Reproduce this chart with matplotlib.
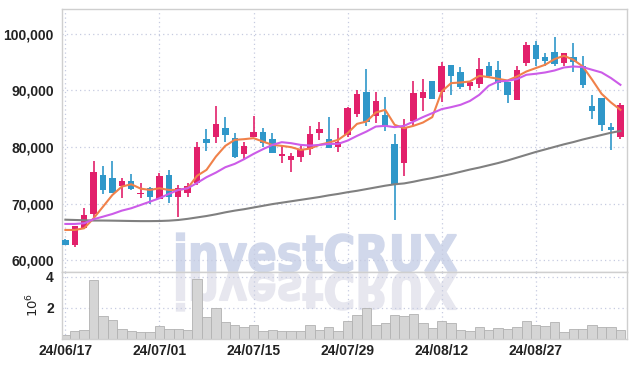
import matplotlib
matplotlib.use('Agg')
import matplotlib.pyplot as plt
import numpy as np
from matplotlib.textpath import TextPath
from matplotlib.patches import PathPatch
from matplotlib.font_manager import FontProperties
from matplotlib.transforms import Affine2D

# ---------------- data ----------------
tick_positions = [0, 10, 20, 30, 40, 50]
tick_labels = ['24/06/17', '24/07/01', '24/07/15', '24/07/29', '24/08/12', '24/08/27']

opens = [63600, 62700, 65640, 68160, 75050, 74520, 73110, 73990, 71700, 72700,
         70870, 75050, 71110, 71820, 73590, 81410, 81820, 83360, 81540, 78820,
         81820, 82700, 81410, 78460, 77700, 78290, 79590, 82420, 81360, 80050,
         82120, 85830, 89770, 85530, 85650, 80530, 77230, 84650, 88710, 91660,
         89770, 94490, 93130, 90780, 91080, 94310, 93600, 91390, 88300, 94780,
         98020, 95870, 96750, 94780, 95870, 94310, 87240, 88610, 83590, 81820]
closes = [62700, 66040, 67990, 75640, 72400, 71930, 73990, 72530, 71930, 71220,
          74880, 71110, 72700, 73110, 79950, 80760, 84060, 82170, 78290, 80180,
          82650, 80650, 78990, 78760, 78350, 79590, 82300, 83180, 79880, 80830,
          86840, 89360, 84470, 88130, 83710, 73290, 83480, 89480, 89770, 88530,
          94310, 92420, 90480, 91360, 93780, 92540, 91270, 89190, 93600, 98020,
          95490, 95110, 94660, 96560, 94930, 90950, 86410, 83890, 83000, 87420]
highs = [63700, 66100, 69170, 77470, 76640, 77470, 74470, 75230, 73690, 72900,
         75350, 75940, 73290, 73690, 80940, 83130, 87240, 85350, 82420, 80940,
         85480, 83300, 82420, 80350, 78880, 80530, 83710, 84360, 85250, 83300,
         87020, 90070, 93730, 89660, 88780, 82240, 84890, 91540, 91950, 91660,
         94890, 94490, 94080, 91480, 95690, 94890, 95070, 91390, 94190, 98430,
         98610, 96560, 99380, 96560, 98320, 96080, 89190, 88610, 84290, 87720]
lows = [62600, 62300, 65600, 67690, 71700, 71780, 71040, 72400, 70940, 69930,
        70800, 70050, 67690, 71110, 73290, 79350, 80760, 80940, 78000, 77700,
        81710, 79950, 78880, 77120, 75640, 77400, 78590, 81240, 79770, 79170,
        81710, 85350, 83710, 84190, 82830, 67100, 74880, 83710, 86410, 88530,
        88000, 89190, 90250, 90070, 90370, 92370, 89950, 87720, 88300, 94190,
        94310, 94310, 94190, 94190, 93130, 90370, 84890, 82880, 79470, 81360]
volumes = [260000, 480000, 540000, 3810000, 1480000, 1230000, 650000, 520000, 410000, 410000,
           840000, 650000, 650000, 540000, 3870000, 1380000, 1960000, 1060000, 900000, 740000,
           900000, 480000, 540000, 480000, 480000, 480000, 900000, 540000, 740000, 480000,
           1120000, 1510000, 1980000, 860000, 1010000, 1510000, 1440000, 1590000, 1010000, 690000,
           1120000, 1010000, 560000, 480000, 740000, 560000, 670000, 630000, 740000, 1120000,
           860000, 800000, 1060000, 410000, 610000, 610000, 900000, 740000, 740000, 560000]
ma_short = [65340, 65340, 65640, 67400, 69450, 71520, 72990, 73410, 72630, 72400,
            72700, 72400, 72400, 72700, 74900, 75940, 78290, 80180, 81240, 81360,
            81540, 80940, 80350, 80180, 79950, 79470, 79700, 80350, 80760, 81240,
            82420, 84060, 84470, 86060, 86540, 83890, 83300, 83710, 84290, 85250,
            89770, 91250, 91360, 91540, 92540, 92310, 92010, 91710, 92420, 93300,
            93900, 94490, 95490, 96080, 95370, 94190, 91840, 89360, 87830, 86540]
ma_mid = [66400, 66400, 66520, 67230, 67690, 68160, 68750, 69170, 69750, 70340,
          70940, 71700, 72400, 72700, 73640, 74650, 75460, 76410, 77000, 77830,
          78760, 79590, 80350, 80830, 80650, 80350, 80230, 80350, 80530, 80530,
          81110, 81940, 82700, 83590, 83710, 83480, 83710, 84470, 85250, 85950,
          86660, 87010, 87420, 88100, 89190, 90780, 91540, 91660, 91960, 92720,
          92900, 93130, 93480, 94010, 94190, 94080, 93600, 93130, 92140, 90950]
ma_long = [67150, 67100, 67050, 67000, 67000, 66980, 66950, 66920, 66900, 66900,
           66920, 66980, 67100, 67300, 67550, 67800, 68100, 68450, 68750, 69000,
           69300, 69600, 69900, 70150, 70400, 70650, 70900, 71150, 71450, 71700,
           72000, 72250, 72550, 72850, 73150, 73400, 73550, 73850, 74200, 74500,
           74850, 75200, 75600, 76000, 76350, 76750, 77150, 77600, 78100, 78600,
           79100, 79550, 80000, 80450, 80850, 81300, 81700, 82100, 82500, 82800]
price_ticks = [60000, 70000, 80000, 90000, 100000]
volume_ticks = [2000000, 4000000]

# ---------------- styling ----------------
W, H = 635, 366
RED = '#e2206b'
BLUE = '#2f97c9'
GRID = '#c6cbe0'
SPINE = '#cfcfcf'
TXT = '#222222'
tick_font = ['Liberation Sans Narrow', 'DejaVu Sans Condensed', 'Liberation Sans', 'DejaVu Sans']
TFS = 10

fig = plt.figure(figsize=(W / 100, H / 100), dpi=100)
fig.patch.set_facecolor('white')
L, R = 62, 627
ax = fig.add_axes([L / W, 1 - 272 / H, (R - L) / W, (272 - 9) / H])
axv = fig.add_axes([L / W, 1 - 338.7 / H, (R - L) / W, (338.7 - 272) / H], sharex=ax)

x = np.arange(len(opens))
o = np.array(opens, float); c = np.array(closes, float)
hi = np.array(highs, float); lo = np.array(lows, float)
cols = [RED if cc >= oo else BLUE for oo, cc in zip(o, c)]

# watermark
fp = FontProperties(family='DejaVu Sans', weight='bold')
tp = TextPath((0, 0), 'investCRUX', size=100, prop=fp)
ext = tp.get_extents()
sx = 280 / ext.width
sy = 38.5 / ext.height
tr_main = Affine2D().translate(-ext.x0, -ext.y0).scale(sx, sy).translate(176.7, H - 271.7)
wm = PathPatch(tp, transform=tr_main, facecolor='#d1d8eb', edgecolor='#d1d8eb', linewidth=1.2, zorder=0.3)
ax.add_artist(wm)
tr_ref = Affine2D().translate(-ext.x0, -ext.y0).scale(sx, -sy).translate(176.7, H - 272.3)
wm2 = PathPatch(tp, transform=tr_ref, facecolor='#e7e7ef', edgecolor='#e7e7ef', linewidth=1.2, zorder=0.3)
axv.add_artist(wm2)

# candles
ax.vlines(x, lo, hi, colors=cols, linewidth=1.2, zorder=3)
body = np.maximum(np.abs(c - o), 180)
ax.bar(x, body, bottom=np.minimum(o, c), width=0.68, color=cols, linewidth=0, zorder=4)

# moving averages
ax.plot(x, ma_long, color='#808080', lw=1.5, zorder=5)
ax.plot(x, ma_short, color='#f0814a', lw=1.5, zorder=6)
ax.plot(x, ma_mid, color='#cc5ce8', lw=1.5, zorder=7)

# volume
axv.bar(x, volumes, width=1.0, facecolor='#d5d5d5', edgecolor='#b2b2b2', linewidth=0.6, zorder=2)

for a in (ax, axv):
    a.set_axisbelow(True)
    a.grid(True, linestyle=(0, (1, 2.5)), color=GRID, linewidth=0.9)
    for s in a.spines.values():
        s.set_color(SPINE)
        s.set_linewidth(1.0)
    a.tick_params(length=0, colors=TXT)

ax.set_xlim(-0.36, 59.7)
ax.set_ylim(57920, 104330)
ax.set_yticks(price_ticks)
ax.set_yticklabels([f'{v:,}' for v in price_ticks], family=tick_font, fontsize=TFS,
                   color=TXT, weight='semibold')
ax.tick_params(axis='y', pad=6)
ax.set_xticks(tick_positions)
ax.tick_params(axis='x', labelbottom=False)

axv.set_ylim(0, 4.3e6)
axv.set_yticks(volume_ticks)
axv.set_yticklabels(['2', '4'], family=tick_font, fontsize=TFS, color=TXT, weight='semibold')
axv.tick_params(axis='y', pad=6)
axv.set_xticks(tick_positions)
axv.set_xticklabels(tick_labels, family=tick_font, fontsize=TFS, color=TXT, weight='semibold')
axv.tick_params(axis='x', pad=4)
axv.set_ylabel(r'$10^6$', fontsize=9.5, color=TXT, labelpad=3)

fig.savefig('out.png', dpi=100, facecolor='white')
